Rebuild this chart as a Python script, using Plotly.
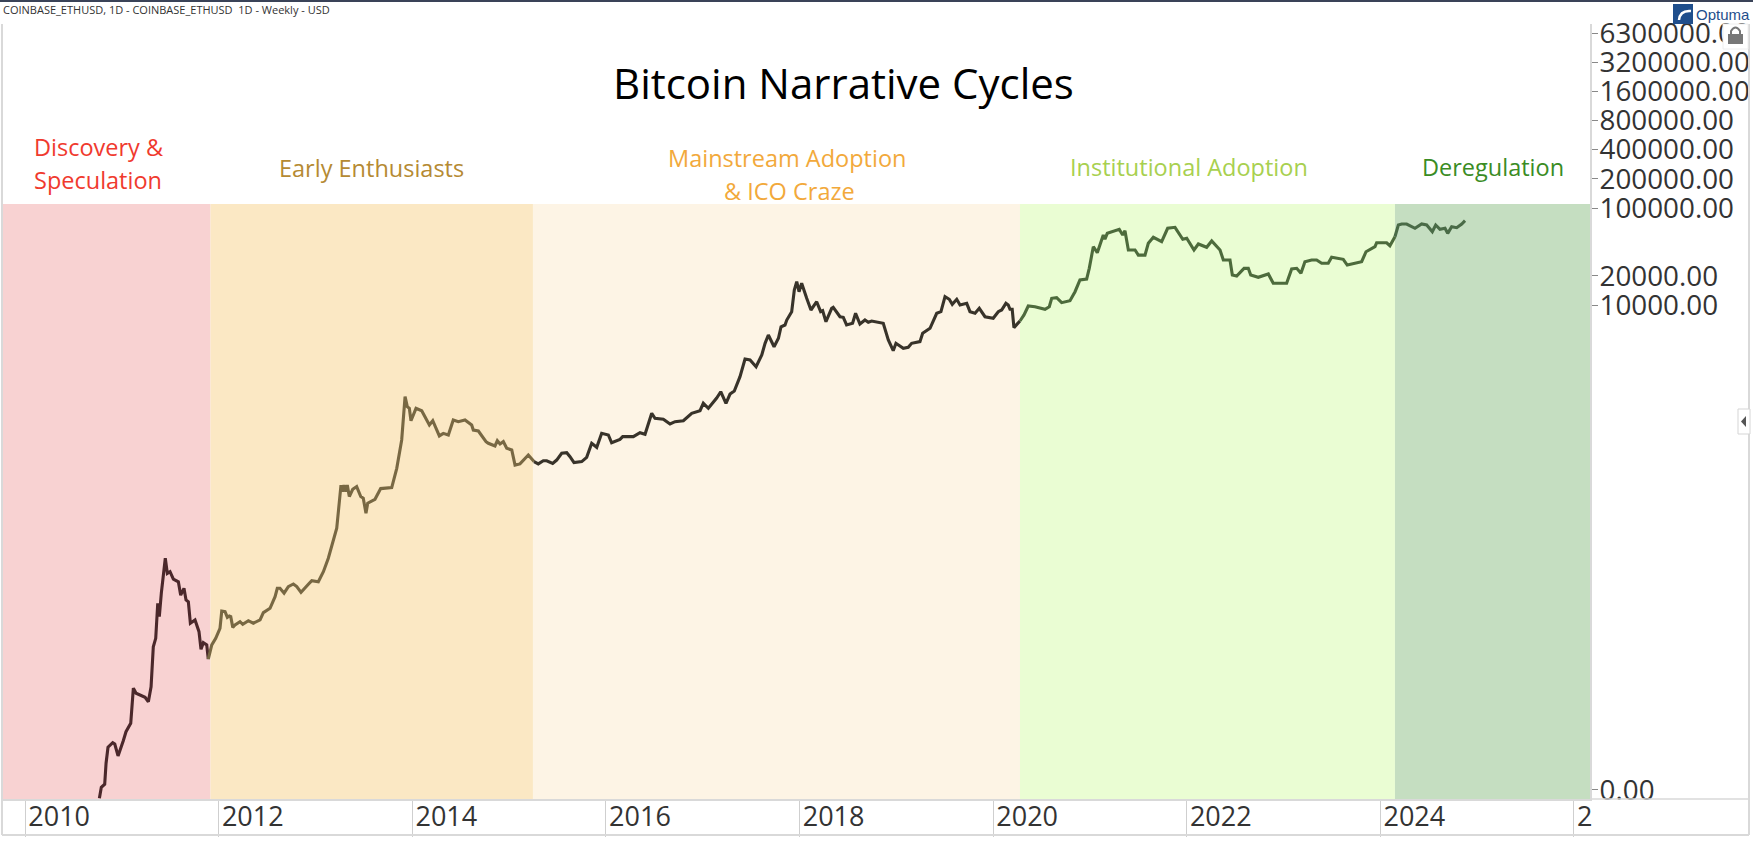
"""Bitcoin narrative cycles: weekly close on a log scale with shaded eras."""

import plotly.graph_objects as go

# era boundaries, decimal years
ERA_EDGES = [2009.762, 2011.916, 2015.247, 2020.278, 2024.152, 2026.167]
ERA_FILLS = ["#F8D2D2", "#FBE8C4", "#FDF4E5", "#EAFDD3", "#C5DEC1"]
ERA_LINE_COLORS = ["#4B282B", "#786843", "#38332A", "#4D6B3C", "#4A6B47"]
ERA_TOP_PRICE = 110000
AXIS_FLOOR_PRICE = 0.0807

# discovery & speculation
DISCOVERY_YEARS = [
    2010.768, 2010.788, 2010.823, 2010.837, 2010.857, 2010.906, 2010.927, 2010.961,
    2011.015, 2011.043, 2011.092, 2011.119, 2011.147, 2011.240, 2011.274, 2011.302,
    2011.325, 2011.350, 2011.371, 2011.387, 2011.408, 2011.449, 2011.470, 2011.498,
    2011.532, 2011.584, 2011.608, 2011.642, 2011.663, 2011.687, 2011.708, 2011.756,
    2011.797, 2011.818, 2011.842, 2011.877, 2011.893,
]
DISCOVERY_PRICES = [
    0.0821, 0.1067, 0.1146, 0.1886, 0.2757, 0.3076, 0.298, 0.2244,
    0.3225, 0.399, 0.4875, 1.12, 0.993, 0.903, 0.813, 1.16,
    3.00, 3.66, 8.41, 6.12, 10.7, 24.5, 17.1, 17.8,
    14.9, 14.0, 10.2, 12.0, 9.10, 8.73, 5.24, 5.66,
    4.29, 2.82, 3.30, 3.13, 2.23,
]

# early enthusiasts
ENTHUSIAST_YEARS = [
    2011.893, 2011.929, 2011.970, 2012.014, 2012.032, 2012.066, 2012.090, 2012.110,
    2012.125, 2012.146, 2012.169, 2012.221, 2012.249, 2012.307, 2012.358, 2012.428,
    2012.462, 2012.531, 2012.583, 2012.606, 2012.634, 2012.676, 2012.720, 2012.772,
    2012.807, 2012.851, 2012.927, 2012.962, 2013.030, 2013.082, 2013.133, 2013.185,
    2013.220, 2013.264, 2013.282, 2013.295, 2013.316, 2013.329, 2013.350, 2013.385,
    2013.426, 2013.468, 2013.494, 2013.522, 2013.540, 2013.615, 2013.674, 2013.788,
    2013.840, 2013.891, 2013.926, 2013.949, 2013.970, 2013.987, 2014.039, 2014.098,
    2014.177, 2014.212, 2014.280, 2014.321, 2014.373, 2014.424, 2014.476, 2014.545,
    2014.614, 2014.631, 2014.683, 2014.762, 2014.786, 2014.855, 2014.879, 2014.907,
    2014.941, 2014.976, 2015.028, 2015.062, 2015.113, 2015.199, 2015.258,
]
ENTHUSIAST_PRICES = [
    2.23, 3.13, 3.66, 4.64, 7.0, 6.89, 6.03, 6.22,
    6.12, 4.75, 5.02, 5.43, 5.11, 5.56, 5.24, 5.66,
    6.73, 7.46, 9.84, 12.0, 12.0, 10.7, 12.5, 13.3,
    12.5, 10.9, 13.2, 14.4, 14.0, 17.8, 24.5, 37.8,
    49.9, 139, 119, 139, 119, 139, 106, 126,
    134, 106, 102, 71.3, 90.4, 99.3, 128, 131,
    207, 406, 1135, 895, 861, 641, 861, 813,
    579, 641, 447, 475, 457, 652, 627, 652,
    579, 514, 502, 390, 375, 352, 399, 369,
    390, 333, 320, 224, 230, 284, 243,
]

# mainstream adoption & ICO craze
MAINSTREAM_YEARS = [
    2015.258, 2015.302, 2015.354, 2015.389, 2015.451, 2015.492, 2015.544, 2015.596,
    2015.630, 2015.671, 2015.751, 2015.802, 2015.854, 2015.906, 2015.957, 2016.026,
    2016.060, 2016.146, 2016.174, 2016.284, 2016.353, 2016.405, 2016.474, 2016.508,
    2016.594, 2016.663, 2016.715, 2016.801, 2016.887, 2016.973, 2017.007, 2017.059,
    2017.145, 2017.187, 2017.241, 2017.283, 2017.327, 2017.386, 2017.438, 2017.490,
    2017.552, 2017.611, 2017.645, 2017.679, 2017.738, 2017.783, 2017.810, 2017.851,
    2017.869, 2017.920, 2017.947, 2017.972, 2017.996, 2018.023, 2018.075, 2018.119,
    2018.178, 2018.219, 2018.240, 2018.274, 2018.333, 2018.349, 2018.419, 2018.453,
    2018.487, 2018.549, 2018.580, 2018.625, 2018.677, 2018.711, 2018.746, 2018.866,
    2018.918, 2018.969, 2018.997, 2019.073, 2019.124, 2019.159, 2019.245, 2019.273,
    2019.349, 2019.418, 2019.462, 2019.504, 2019.548, 2019.579, 2019.625, 2019.659,
    2019.728, 2019.762, 2019.814, 2019.858, 2019.917, 2019.968, 2020.002, 2020.054,
    2020.089, 2020.133, 2020.157, 2020.175, 2020.198, 2020.216, 2020.278,
]
MAINSTREAM_PRICES = [
    243, 230, 248, 248, 233, 252, 296, 300,
    273, 237, 243, 269, 375, 341, 475, 457,
    380, 412, 439, 439, 483, 465, 765, 679,
    664, 593, 627, 641, 765, 813, 970, 861,
    1099, 1276, 970, 1208, 1297, 1824, 2773, 2710,
    2312, 3053, 4027, 4909, 3715, 4539, 5970, 6223,
    6998, 8531, 14290, 17380, 13710, 16750, 11720, 8880,
    10810, 8531, 8730, 6730, 9250, 9470, 7570, 7470,
    6223, 6480, 8210, 6370, 6998, 6640, 6840, 6480,
    4360, 3380, 4027, 3580, 3660, 4027, 4190, 5110,
    5750, 8210, 8531, 12180, 11450, 10160, 11450, 10000,
    10410, 8531, 8210, 9250, 7570, 7470, 7290, 8531,
    8880, 10410, 10000, 9030, 9030, 5840, 6840,
]

# institutional adoption
INSTITUTIONAL_YEARS = [
    2020.278, 2020.320, 2020.364, 2020.433, 2020.537, 2020.581, 2020.606, 2020.657,
    2020.709, 2020.795, 2020.847, 2020.898, 2020.967, 2020.994, 2021.036, 2021.077,
    2021.139, 2021.156, 2021.180, 2021.226, 2021.304, 2021.339, 2021.363, 2021.398,
    2021.467, 2021.501, 2021.570, 2021.604, 2021.656, 2021.742, 2021.804, 2021.880,
    2021.960, 2022.001, 2022.076, 2022.121, 2022.207, 2022.259, 2022.345, 2022.379,
    2022.448, 2022.472, 2022.517, 2022.593, 2022.637, 2022.662, 2022.740, 2022.844,
    2022.895, 2023.033, 2023.085, 2023.137, 2023.181, 2023.222, 2023.291, 2023.343,
    2023.395, 2023.463, 2023.498, 2023.618, 2023.659, 2023.808, 2023.853, 2023.946,
    2023.963, 2024.066, 2024.100, 2024.152,
]
INSTITUTIONAL_PRICES = [
    6840, 7890, 9770, 9600, 9030, 9600, 11720, 11890,
    10570, 11070, 13710, 18110, 18530, 23880, 39900, 34600,
    52700, 47560, 54800, 57000, 60300, 52700, 58300, 36900,
    36900, 32700, 32700, 43250, 49900, 44980, 61800, 63200,
    47560, 48750, 36900, 42560, 39360, 45700, 36900, 29100,
    29100, 20370, 19900, 23880, 23880, 20370, 19300, 20880,
    16750, 16750, 23500, 23880, 21230, 27930, 29100, 29100,
    26900, 26900, 31040, 29580, 25820, 27930, 35400, 39900,
    43850, 43850, 40840, 50580,
]

# deregulation
DEREGULATION_YEARS = [
    2024.152, 2024.187, 2024.222, 2024.273, 2024.359, 2024.428, 2024.480, 2024.538,
    2024.573, 2024.617, 2024.669, 2024.697, 2024.738, 2024.790, 2024.842, 2024.876,
]
DEREGULATION_PRICES = [
    50580, 66800, 68400, 68400, 61800, 68400, 66800, 57000,
    66800, 60300, 61800, 54800, 64100, 62700, 68400, 73960,
]

ERA_YEARS = [
    DISCOVERY_YEARS, ENTHUSIAST_YEARS, MAINSTREAM_YEARS,
    INSTITUTIONAL_YEARS, DEREGULATION_YEARS,
]
ERA_PRICES = [
    DISCOVERY_PRICES, ENTHUSIAST_PRICES, MAINSTREAM_PRICES,
    INSTITUTIONAL_PRICES, DEREGULATION_PRICES,
]

X_TICK_VALUES = [2010, 2012, 2014, 2016, 2018, 2020, 2022, 2024, 2026]
X_TICK_LABELS = ["2010", "2012", "2014", "2016", "2018", "2020", "2022", "2024", "2"]

Y_TICK_VALUES = [6300000, 3200000, 1600000, 800000, 400000, 200000, 100000, 20000, 10000, 0.1]
Y_TICK_LABELS = [
    "6300000.00", "3200000.00", "1600000.00", "800000.00", "400000.00",
    "200000.00", "100000.00", "20000.00", "10000.00", "0.00",
]

TITLE = "Bitcoin Narrative Cycles"
HEADER = "COINBASE_ETHUSD, 1D - COINBASE_ETHUSD  1D - Weekly - USD"

FONT = "Open Sans"
WIDTH, HEIGHT = 1753, 844
MARGIN = dict(l=2, r=163, t=24, b=45)
GREY = "#D9D9D9"
LABEL_SIZE = 23.5


def paper_x(px):
    return (px - MARGIN["l"]) / (WIDTH - MARGIN["l"] - MARGIN["r"])


def paper_y(py):
    return (HEIGHT - MARGIN["b"] - py) / (HEIGHT - MARGIN["t"] - MARGIN["b"])


def label(text, px, py, size, color, family=FONT, xanchor="center"):
    return dict(
        text=text, x=paper_x(px), y=paper_y(py), xref="paper", yref="paper",
        xanchor=xanchor, yanchor="middle", showarrow=False,
        font=dict(family=family, size=size, color=color),
    )


def frame_line(x0, y0, x1, y1, color=GREY, width=2):
    return dict(
        type="line", xref="paper", yref="paper", layer="above",
        x0=paper_x(x0), y0=paper_y(y0), x1=paper_x(x1), y1=paper_y(y1),
        line=dict(color=color, width=width),
    )


fig = go.Figure()

# 各时期一条线
for years, prices, color in zip(ERA_YEARS, ERA_PRICES, ERA_LINE_COLORS):
    fig.add_trace(go.Scatter(
        x=years, y=prices, mode="lines", showlegend=False,
        line=dict(color=color, width=3.1),
    ))

shapes = []
for i, fill in enumerate(ERA_FILLS):
    shapes.append(dict(
        type="rect", xref="x", yref="y", layer="below",
        x0=ERA_EDGES[i], x1=ERA_EDGES[i + 1],
        y0=AXIS_FLOOR_PRICE, y1=ERA_TOP_PRICE,
        fillcolor=fill, line=dict(width=0),
    ))

shapes += [
    frame_line(0, 1, WIDTH, 1, color="#3A4358"),
    frame_line(2, 24, 2, 835),
    frame_line(1749, 24, 1749, 835),
    frame_line(2, 835, 1749, 835),
    frame_line(1590, 799, 1749, 799, width=1.5),
    # lock button
    dict(type="rect", xref="paper", yref="paper", layer="above",
         x0=paper_x(1723), x1=paper_x(1748), y0=paper_y(49), y1=paper_y(24),
         fillcolor="white", line=dict(color="#EEEEEE", width=1)),
    dict(type="rect", xref="paper", yref="paper", layer="above",
         x0=paper_x(1728), x1=paper_x(1743), y0=paper_y(44), y1=paper_y(34),
         fillcolor="#777777", line=dict(width=0)),
    dict(type="path", xref="paper", yref="paper", layer="above",
         path=(f"M {paper_x(1731)} {paper_y(34)} L {paper_x(1731)} {paper_y(31)} "
               f"Q {paper_x(1735.5)} {paper_y(24)} {paper_x(1740)} {paper_y(31)} "
               f"L {paper_x(1740)} {paper_y(34)}"),
         line=dict(color="#777777", width=2)),
    # logo
    dict(type="rect", xref="paper", yref="paper", layer="above",
         x0=paper_x(1673), x1=paper_x(1693), y0=paper_y(24), y1=paper_y(4),
         fillcolor="#1F4E8C", line=dict(width=0)),
    dict(type="path", xref="paper", yref="paper", layer="above",
         path=(f"M {paper_x(1679)} {paper_y(20)} Q {paper_x(1680)} {paper_y(10)} "
               f"{paper_x(1691)} {paper_y(11)}"),
         line=dict(color="white", width=2.5)),
    # side collapse tab
    dict(type="rect", xref="paper", yref="paper", layer="above",
         x0=paper_x(1738), x1=paper_x(1750), y0=paper_y(434), y1=paper_y(409),
         fillcolor="white", line=dict(color="#D5D5D5", width=1)),
    dict(type="path", xref="paper", yref="paper", layer="above",
         path=(f"M {paper_x(1746)} {paper_y(416)} L {paper_x(1741)} {paper_y(421.5)} "
               f"L {paper_x(1746)} {paper_y(427)} Z"),
         fillcolor="#555555", line=dict(width=0)),
]

annotations = [
    label(HEADER, 1, 10, 11, "#333333", xanchor="left"),
    label("Optuma", 1694, 15, 15, "#1F4E8C", family="Liberation Sans", xanchor="left"),
    label(TITLE, 844, 82, 42, "#000000"),
    label("Discovery &amp;", 98, 147, LABEL_SIZE, "#F03A2E"),
    label("Speculation", 98, 180, LABEL_SIZE, "#F03A2E"),
    label("Early Enthusiasts", 371, 168, LABEL_SIZE, "#B58A33"),
    label("Mainstream Adoption", 787, 158, LABEL_SIZE, "#F2A93B"),
    label("&amp; ICO Craze", 789, 191, LABEL_SIZE, "#F2A93B"),
    label("Institutional Adoption", 1189, 167, LABEL_SIZE, "#A8D04F"),
    label("Deregulation", 1493, 167, LABEL_SIZE, "#3A8C24"),
]

fig.update_layout(
    width=WIDTH,
    height=HEIGHT,
    margin=dict(**MARGIN, pad=0, autoexpand=False),
    paper_bgcolor="white",
    plot_bgcolor="white",
    font=dict(family=FONT, color="#333333"),
    showlegend=False,
    shapes=shapes,
    annotations=annotations,
)
fig.update_xaxes(
    type="linear",
    range=[ERA_EDGES[0], ERA_EDGES[-1]],
    tickmode="array",
    tickvals=X_TICK_VALUES,
    ticktext=X_TICK_LABELS,
    ticks="outside",
    ticklen=36,
    tickwidth=1,
    tickcolor="#CFCFCF",
    ticklabelposition="outside right",
    ticklabelstandoff=-7,
    ticklabelshift=2,
    tickfont=dict(family=FONT, size=27, color="#333333"),
    showgrid=False,
    zeroline=False,
    showline=True,
    linecolor=GREY,
    linewidth=1.5,
)
fig.update_yaxes(
    type="log",
    side="right",
    range=[-1.093, 6.897],
    tickmode="array",
    tickvals=Y_TICK_VALUES,
    ticktext=Y_TICK_LABELS,
    ticks="outside",
    ticklen=6,
    tickwidth=1,
    tickcolor="#888888",
    ticklabelstandoff=-4,
    tickfont=dict(family=FONT, size=27.8, color="#333333"),
    showgrid=False,
    zeroline=False,
    showline=True,
    linecolor=GREY,
    linewidth=2,
)

# 页面默认边距去掉, 图从左上角开始
fig.write_html(
    "out.html",
    config={"displayModeBar": False},
    post_script="document.body.style.margin='0';document.documentElement.style.overflow='hidden';",
)
